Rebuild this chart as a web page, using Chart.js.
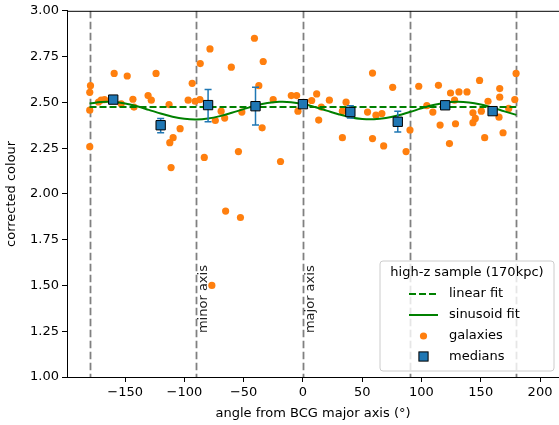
<!DOCTYPE html>
<html><head><meta charset="utf-8">
<script src="https://cdn.jsdelivr.net/npm/chart.js@4.4.0/dist/chart.umd.min.js"></script>
<style>html,body{margin:0;padding:0;background:#fff;}#wrap{width:559px;height:425px;}</style>
</head><body><div id="wrap"><canvas id="c" width="559" height="425"></canvas></div>
<script>
const galaxyX = [-179.2,-179.8,-179.8,-179.8,-172.4,-170.2,-167.3,-159.2,-153.3,-148.2,-143.4,-142.5,-130.6,-127.9,-123.9,-112.9,-112.3,-109.5,-111.2,-103.6,-96.8,-93.4,-90.9,-86.9,-86.6,-83.2,-78.4,-76.8,-73.9,-69.0,-66.0,-65.2,-60.4,-54.4,-52.7,-51.5,-40.9,-37.2,-34.4,-33.5,-25.1,-18.9,-9.8,-5.3,-4.2,7.4,11.6,13.3,15.5,22.3,33.3,33.3,36.4,54.5,58.7,58.7,61.6,66.6,68.1,75.7,87.0,90.3,97.7,104.5,109.6,114.3,115.7,123.6,124.5,127.9,128.7,131.6,138.4,143.4,145.4,143.4,149.0,150.5,153.3,156.1,165.4,166.0,166.0,168.8,173.6,178.7,179.8];
const galaxyY = [2.591,2.555,2.457,2.258,2.502,2.512,2.515,2.658,2.492,2.644,2.517,2.474,2.537,2.512,2.658,2.488,2.280,2.307,2.144,2.356,2.512,2.604,2.506,2.515,2.712,2.199,2.792,1.500,2.401,2.452,2.414,1.906,2.692,2.231,1.871,2.447,2.850,2.591,2.361,2.723,2.515,2.177,2.537,2.537,2.452,2.510,2.546,2.403,2.474,2.512,2.307,2.452,2.501,2.447,2.660,2.302,2.430,2.439,2.262,2.582,2.231,2.349,2.588,2.482,2.447,2.593,2.376,2.275,2.551,2.512,2.383,2.557,2.557,2.443,2.412,2.389,2.620,2.452,2.307,2.506,2.419,2.528,2.575,2.334,2.467,2.515,2.658];
const medianX = [-160,-120,-80,-40,0,40,80,120,160];
const medianY = [2.515,2.375,2.485,2.479,2.490,2.447,2.394,2.484,2.452];
const medianLow = [2.500,2.334,2.394,2.376,2.475,2.415,2.338,2.470,2.438];
const medianHigh = [2.530,2.412,2.570,2.582,2.505,2.482,2.452,2.498,2.466];
const linearX = [-180,180];
const linearY = [2.474,2.474];
const sinX = [-180,-170,-160,-150,-140,-130,-120,-110,-100,-90,-80,-70,-60,-50,-40,-30,-20,-10,0,10,20,30,40,50,60,70,80,90,100,110,120,130,140,150,160,170,180];
const sinY = [2.4936,2.5019,2.5019,2.4936,2.4784,2.4591,2.439,2.4218,2.4105,2.4070,2.4121,2.4249,2.4429,2.4631,2.4819,2.4959,2.5026,2.5009,2.491,2.4748,2.455,2.4352,2.419,2.4091,2.4074,2.4141,2.4281,2.4469,2.4671,2.4851,2.4979,2.503,2.4995,2.4882,2.471,2.4509,2.4316];
const refLineX = [-180,-90,0,90,180];
const axisNoteX = [-90,0];
const axisNoteText = ['minor axis','major axis'];
const axisNoteY = 1.24;
const xTicks = [-150,-100,-50,0,50,100,150,200];
const xTickLabels = ['\u2212150','\u2212100','\u221250','0','50','100','150','200'];
const yTicks = [1.00,1.25,1.50,1.75,2.00,2.25,2.50,2.75,3.00];
const yTickLabels = ['1.00','1.25','1.50','1.75','2.00','2.25','2.50','2.75','3.00'];
const legendTitle = 'high-z sample (170kpc)';
const legendLabels = ['linear fit','sinusoid fit','galaxies','medians'];
const xTitle = 'angle from BCG major axis (\u00b0)';
const yTitle = 'corrected colour';

const FONT = 'DejaVu Sans';
const FS = 13;
Chart.defaults.font.family = FONT;
Chart.defaults.font.size = FS;
Chart.defaults.color = '#000';

const ORANGE = '#ff7f0e', BLUE = '#1f77b4', GREEN = '#008000';

const pts = (xs, ys) => xs.map((x, i) => ({x, y: ys[i]}));

const decorPlugin = {
  id: 'decor',
  beforeDatasetsDraw(chart) {
    const {ctx, chartArea: ca, scales: {x, y}} = chart;
    ctx.save();
    ctx.beginPath(); ctx.rect(ca.left, ca.top, ca.right - ca.left, ca.bottom - ca.top); ctx.clip();
    ctx.strokeStyle = '#808080'; ctx.lineWidth = 1.8; ctx.setLineDash([7.5, 3.5]);
    refLineX.forEach(v => {
      const px = Math.round(x.getPixelForValue(v)) + 0.5;
      ctx.beginPath(); ctx.moveTo(px, ca.top); ctx.lineTo(px, ca.bottom); ctx.stroke();
    });
    ctx.setLineDash([]);
    ctx.fillStyle = '#222';
    ctx.font = FS + 'px "' + FONT + '"';
    ctx.textAlign = 'left'; ctx.textBaseline = 'top';
    axisNoteX.forEach((v, i) => {
      ctx.save();
      ctx.translate(x.getPixelForValue(v) + 1, y.getPixelForValue(axisNoteY));
      ctx.rotate(-Math.PI / 2);
      ctx.fillText(axisNoteText[i], 0, 0);
      ctx.restore();
    });
    ctx.restore();
  },
  beforeDatasetDraw(chart, args) {
    if (args.index !== 0) return;
    const {ctx, scales: {x, y}} = chart;
    ctx.save();
    ctx.strokeStyle = BLUE; ctx.lineWidth = 1.5;
    medianX.forEach((v, i) => {
      const px = x.getPixelForValue(v);
      const lo = y.getPixelForValue(medianLow[i]);
      const hi = y.getPixelForValue(medianHigh[i]);
      ctx.beginPath();
      ctx.moveTo(px, lo); ctx.lineTo(px, hi);
      ctx.moveTo(px - 3.5, lo); ctx.lineTo(px + 3.5, lo);
      ctx.moveTo(px - 3.5, hi); ctx.lineTo(px + 3.5, hi);
      ctx.stroke();
    });
    ctx.restore();
  },
  afterDraw(chart) {
    const {ctx, chartArea: ca} = chart;
    ctx.save();
    ctx.strokeStyle = '#000'; ctx.lineWidth = 1;
    ctx.beginPath(); ctx.moveTo(ca.left, ca.top + 0.5); ctx.lineTo(ca.right, ca.top + 0.5); ctx.stroke();
    const R = ca.right - 5, B = ca.bottom - 6, L = R - 174, T = B - 110;
    const r = 3;
    ctx.beginPath();
    ctx.moveTo(L + r, T); ctx.lineTo(R - r, T); ctx.arcTo(R, T, R, T + r, r);
    ctx.lineTo(R, B - r); ctx.arcTo(R, B, R - r, B, r);
    ctx.lineTo(L + r, B); ctx.arcTo(L, B, L, B - r, r);
    ctx.lineTo(L, T + r); ctx.arcTo(L, T, L + r, T, r);
    ctx.closePath();
    ctx.fillStyle = 'rgba(255,255,255,0.8)'; ctx.fill();
    ctx.strokeStyle = '#cccccc'; ctx.lineWidth = 1; ctx.stroke();
    ctx.fillStyle = '#000';
    ctx.font = FS + 'px "' + FONT + '"';
    ctx.textBaseline = 'middle';
    ctx.textAlign = 'center';
    ctx.fillText(legendTitle, (L + R) / 2, T + 12);
    ctx.textAlign = 'left';
    const rows = [T + 33, T + 54, T + 75, T + 95.5];
    const hx0 = L + 29, hx1 = L + 58, hc = L + 43.5, tx = L + 69;
    ctx.strokeStyle = GREEN; ctx.lineWidth = 2; ctx.setLineDash([7, 3]);
    ctx.beginPath(); ctx.moveTo(hx0, rows[0]); ctx.lineTo(hx1, rows[0]); ctx.stroke();
    ctx.setLineDash([]);
    ctx.beginPath(); ctx.moveTo(hx0, rows[1]); ctx.lineTo(hx1, rows[1]); ctx.stroke();
    ctx.fillStyle = ORANGE;
    ctx.beginPath(); ctx.arc(hc, rows[2], 3.6, 0, Math.PI * 2); ctx.fill();
    ctx.fillStyle = BLUE; ctx.strokeStyle = '#000'; ctx.lineWidth = 1;
    ctx.fillRect(hc - 4.6, rows[3] - 4.6, 9.2, 9.2);
    ctx.strokeRect(hc - 4.6, rows[3] - 4.6, 9.2, 9.2);
    ctx.fillStyle = '#000';
    legendLabels.forEach((t, i) => ctx.fillText(t, tx, rows[i]));
    ctx.restore();
  }
};

new Chart(document.getElementById('c'), {
  type: 'scatter',
  data: {
    datasets: [
      {label: 'medians', data: pts(medianX, medianY), pointStyle: 'rect', pointRadius: 6.6,
       backgroundColor: BLUE, borderColor: '#000', borderWidth: 1, showLine: false},
      {label: 'linear fit', data: pts(linearX, linearY), showLine: true, pointRadius: 0,
       borderColor: GREEN, borderWidth: 2, borderDash: [7, 3], fill: false},
      {label: 'sinusoid fit', data: pts(sinX, sinY), showLine: true, pointRadius: 0,
       borderColor: GREEN, borderWidth: 2, tension: 0.4, fill: false},
      {label: 'galaxies', data: pts(galaxyX, galaxyY), pointRadius: 3.6, pointStyle: 'circle',
       backgroundColor: ORANGE, borderWidth: 0, showLine: false}
    ]
  },
  options: {
    responsive: false, animation: false, devicePixelRatio: 1,
    layout: {autoPadding: false, padding: {top: 9, right: 0, left: 0, bottom: 0}},
    plugins: {legend: {display: false}, tooltip: {enabled: false}},
    scales: {
      x: {
        type: 'linear', min: -199, max: 216,
        afterBuildTicks: s => { s.ticks = xTicks.map(v => ({value: v})); },
        afterFit: s => { s.height = 48; s.paddingRight = 0; s.paddingLeft = 0; },
        ticks: {callback: v => { const i = xTicks.indexOf(v); return i >= 0 ? xTickLabels[i] : ''; },
                autoSkip: false, maxRotation: 0, padding: 3, color: '#000'},
        grid: {drawOnChartArea: false, drawTicks: true, tickLength: 5, color: '#000'},
        border: {display: true, color: '#000', width: 1},
        title: {display: true, text: xTitle, color: '#000', padding: {top: 0, bottom: 4}}
      },
      y: {
        type: 'linear', min: 1, max: 3,
        afterBuildTicks: s => { s.ticks = yTicks.map(v => ({value: v})); },
        afterFit: s => { s.width = 67; },
        ticks: {callback: v => { const i = yTicks.indexOf(v); return i >= 0 ? yTickLabels[i] : ''; },
                autoSkip: false, padding: 3, color: '#000'},
        grid: {drawOnChartArea: false, drawTicks: true, tickLength: 5, color: '#000'},
        border: {display: true, color: '#000', width: 1},
        title: {display: true, text: yTitle, color: '#000', padding: {top: 4, bottom: 0}}
      }
    }
  },
  plugins: [decorPlugin]
});
</script></body></html>
